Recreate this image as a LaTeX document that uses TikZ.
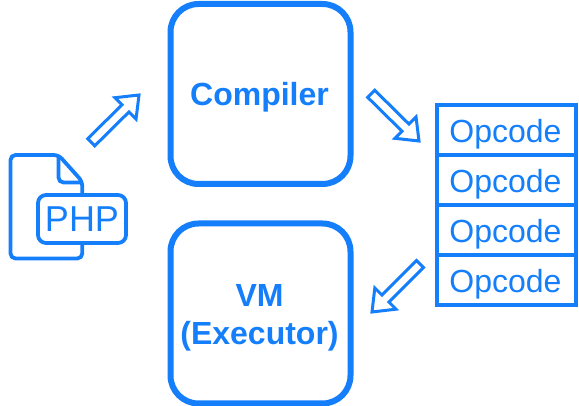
\documentclass[tikz,border=0pt]{standalone}
\usepackage{fontspec}
\setmainfont{Liberation Sans}
\usepackage{xcolor}
\usetikzlibrary{calc,arrows.meta,positioning}
\definecolor{phpblue}{HTML}{147EFB}
\tikzset{
  stage/.style={draw=phpblue,line width=6pt,rounded corners=28pt,minimum width=180pt,minimum height=180pt,
    align=center,text=phpblue,font=\fontsize{32}{38}\selectfont\bfseries},
  opbox/.style={draw=phpblue,line width=4pt,outer sep=0pt,minimum width=139pt,minimum height=50pt,inner sep=0pt,
    text height=25pt,text depth=0pt,text=phpblue,font=\fontsize{32}{38}\selectfont},
  fatline/.style={draw=phpblue,line width=3pt,line join=miter,miter limit=10,fill=white},
}
\newcommand{\fatarrow}[2]{
  \draw[fatline] ($(#1)!5pt!90:(#2)$) -- ($($(#2)!19pt!(#1)$)!5pt!90:(#2)$)
    -- ($($(#2)!19pt!(#1)$)!15pt!90:(#2)$) -- (#2)
    -- ($($(#2)!19pt!(#1)$)!15pt!-90:(#2)$) -- ($($(#2)!19pt!(#1)$)!5pt!-90:(#2)$)
    -- ($(#1)!5pt!-90:(#2)$) -- cycle;
}
\begin{document}
\begin{tikzpicture}[x=1pt,y=-1pt]
\useasboundingbox (0,0) rectangle (579,406);
\node[stage,text height=22.7pt,text depth=0pt] (compiler) at (260.5,94) {Compiler\kern2pt};
\node[stage,text height=69pt] (vm) at (260.5,313.5) {VM\kern2pt\\(Executor)\kern2pt};
\node[opbox] (op1) at (506.5,130) {Opcode\kern2pt};
\foreach \prev/\cur in {1/2,2/3,3/4}{
  \node[opbox,below=0pt of op\prev] (op\cur) {Opcode\kern2pt};
}
% source file
\draw[phpblue,line width=3.8pt,line join=round,rounded corners=5pt]
  (82.3,195) -- (82.3,181.5) -- (58.5,155) -- (10.5,155) -- (10.5,258.5) -- (82.3,258.5) -- (82.3,243);
\draw[phpblue,line width=3.8pt,rounded corners=5pt] (58.5,155) -- (58.5,182.5) -- (82.3,182.5);
\node[draw=phpblue,line width=3.8pt,rounded corners=8pt,minimum width=88pt,minimum height=48pt,inner sep=0pt,
  text=phpblue,font=\fontsize{36}{38}\selectfont] (php) at (82,219) {PHP};
\coordinate (a1s) at (91.2,142.3);
\coordinate (a1e) at (139,95);
\coordinate (a2s) at (371.2,93.8);
\coordinate (a2e) at (419,141);
\coordinate (a3s) at (420,264);
\coordinate (a3e) at (372,312);
\fatarrow{a1s}{a1e}
\fatarrow{a2s}{a2e}
\fatarrow{a3s}{a3e}
\end{tikzpicture}
\end{document}
